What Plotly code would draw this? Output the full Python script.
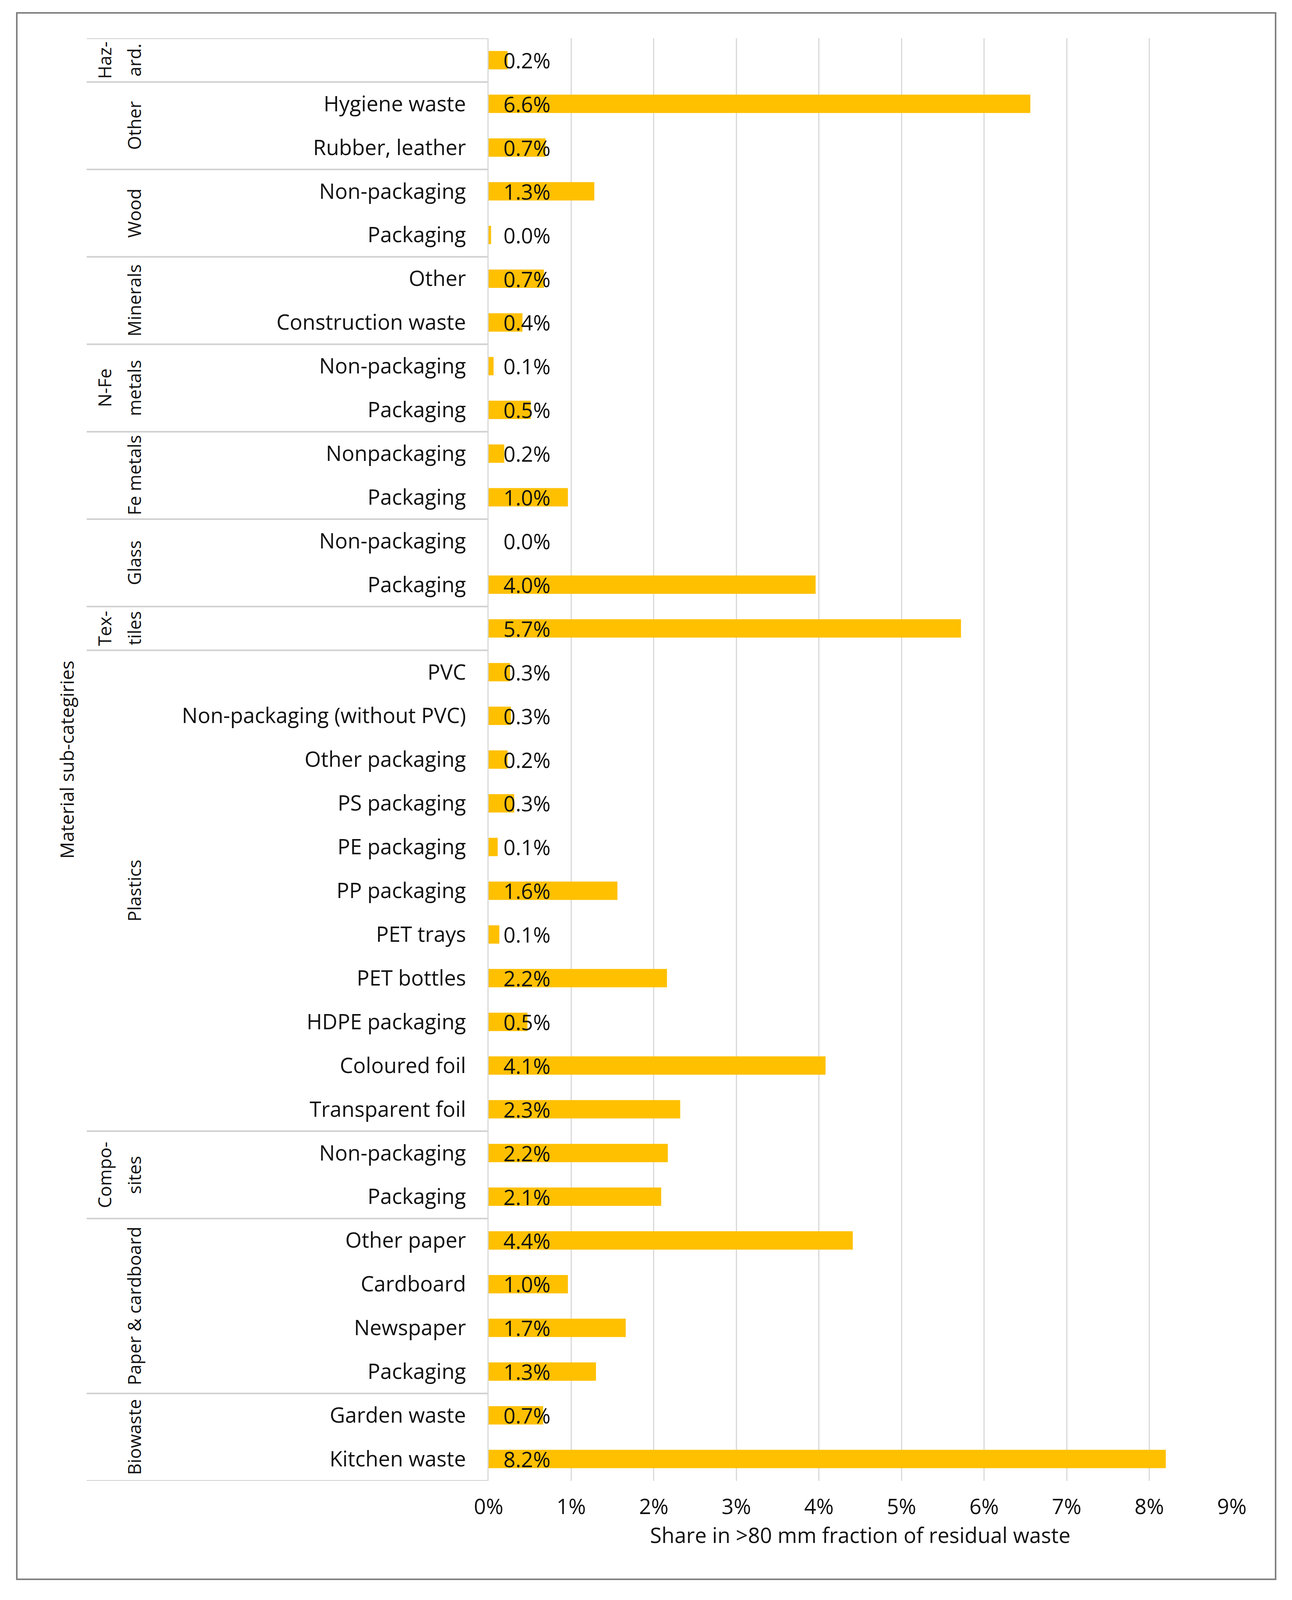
import plotly.graph_objects as go

# ---------------- data ----------------
group_lines = [["Haz-", "ard."], ["Other"], ["Wood"], ["Minerals"], ["N-Fe", "metals"],
               ["Fe metals"], ["Glass"], ["Tex-", "tiles"], ["Plastics"], ["Compo-", "sites"],
               ["Paper & cardboard"], ["Biowaste"]]
group_sizes = [1, 2, 2, 2, 2, 2, 2, 1, 11, 2, 4, 2]

subcategories = [
    "",
    "Hygiene waste", "Rubber, leather",
    "Non-packaging", "Packaging",
    "Other", "Construction waste",
    "Non-packaging", "Packaging",
    "Nonpackaging", "Packaging",
    "Non-packaging", "Packaging",
    "",
    "PVC", "Non-packaging (without PVC)", "Other packaging", "PS packaging", "PE packaging",
    "PP packaging", "PET trays", "PET bottles", "HDPE packaging", "Coloured foil", "Transparent foil",
    "Non-packaging", "Packaging",
    "Other paper", "Cardboard", "Newspaper", "Packaging",
    "Garden waste", "Kitchen waste",
]
values = [
    0.23,
    6.56, 0.69,
    1.28, 0.03,
    0.67, 0.41,
    0.06, 0.51,
    0.19, 0.96,
    0.0, 3.96,
    5.72,
    0.26, 0.27, 0.23, 0.31, 0.11, 1.56, 0.13, 2.16, 0.47, 4.08, 2.32,
    2.17, 2.09,
    4.41, 0.96, 1.66, 1.30,
    0.66, 8.20,
]
x_ticks = [0, 1, 2, 3, 4, 5, 6, 7, 8, 9]
x_title = "Share in >80 mm fraction of residual waste"
y_title = "Material sub-categiries"

# ---------------- layout geometry ----------------
# The visible capture is about 3308 x 4096 with the page body offset by 8 px,
# so the figure is sized to fit fully inside it.
W, H = 3300, 4088
ML, MR, MT, MB = 1243, 154, 90, 305
PW = W - ML - MR
PH = H - MT - MB
FONT = "Open Sans, Noto Sans, sans-serif"
FS = 54
FS_ROT = 46
TXT = "#111111"
BAR_COLOR = "#FFC000"
GRID = "#d9d9d9"

n = len(values)
ypos = [n - 1 - i for i in range(n)]


def px_x(p):
    return (p - ML) / PW


def px_y(p):
    return (H - MB - p) / PH


fig = go.Figure()
fig.add_trace(go.Bar(
    x=values, y=ypos, orientation="h", width=0.42,
    marker=dict(color=BAR_COLOR, line=dict(width=0)),
    hoverinfo="skip", showlegend=False,
))

annotations = []
# value labels at bar base
for v, y in zip(values, ypos):
    annotations.append(dict(
        x=0, y=y, xref="x", yref="y", text=f"{v:.1f}%", showarrow=False,
        xanchor="left", yanchor="middle", xshift=36,
        font=dict(family=FONT, size=FS, color=TXT),
    ))

# group labels and separators
shapes = []
start = 0
bounds = [ypos[0] + 0.5]
for lines, size in zip(group_lines, group_sizes):
    rows = ypos[start:start + size]
    yc = sum(rows) / len(rows)
    nl = len(lines)
    for k, t in enumerate(lines):
        cx = 335 - (nl - 1 - k) * 76
        annotations.append(dict(
            x=0, y=yc, xref="paper", yref="y", text=t, showarrow=False,
            textangle=-90, xanchor="center", yanchor="middle", xshift=cx - ML,
            font=dict(family=FONT, size=FS_ROT, color=TXT),
        ))
    start += size
    bounds.append(ypos[start - 1] - 0.5)

for b in bounds:
    shapes.append(dict(type="line", xref="paper", yref="y", x0=px_x(214), x1=0,
                       y0=b, y1=b, line=dict(color="#d0d0d0", width=4), layer="below"))

# outer frame
shapes.append(dict(type="rect", xref="paper", yref="paper",
                   x0=px_x(35), x1=px_x(3258), y0=px_y(4035), y1=px_y(25),
                   line=dict(color="#808080", width=4), fillcolor="rgba(0,0,0,0)"))

# y-axis title
annotations.append(dict(
    x=0, y=0.5, xref="paper", yref="paper", text=y_title, showarrow=False,
    textangle=-90, xanchor="center", yanchor="middle", xshift=162 - ML,
    font=dict(family=FONT, size=48, color=TXT),
))

fig.update_layout(
    width=W, height=H,
    margin=dict(l=ML, r=MR, t=MT, b=MB),
    paper_bgcolor="white", plot_bgcolor="white",
    font=dict(family=FONT, size=FS, color=TXT),
    annotations=annotations, shapes=shapes,
)
fig.update_xaxes(
    range=[0, 9], tickvals=x_ticks, ticktext=[f"{t}%" for t in x_ticks],
    showgrid=True, gridcolor=GRID, gridwidth=3, zeroline=False, showline=False,
    ticks="", ticklabelstandoff=30,
    tickfont=dict(family=FONT, size=FS, color=TXT),
    title=dict(text=x_title, standoff=20, font=dict(family=FONT, size=FS, color=TXT)),
    fixedrange=True,
)
fig.update_yaxes(
    range=[-0.5, n - 0.5], tickvals=ypos, ticktext=subcategories,
    showgrid=False, zeroline=False, showline=True, linecolor=GRID, linewidth=3,
    ticks="", ticklabelstandoff=44,
    tickfont=dict(family=FONT, size=FS, color=TXT),
    fixedrange=True,
)

fig.write_html("out.html")
